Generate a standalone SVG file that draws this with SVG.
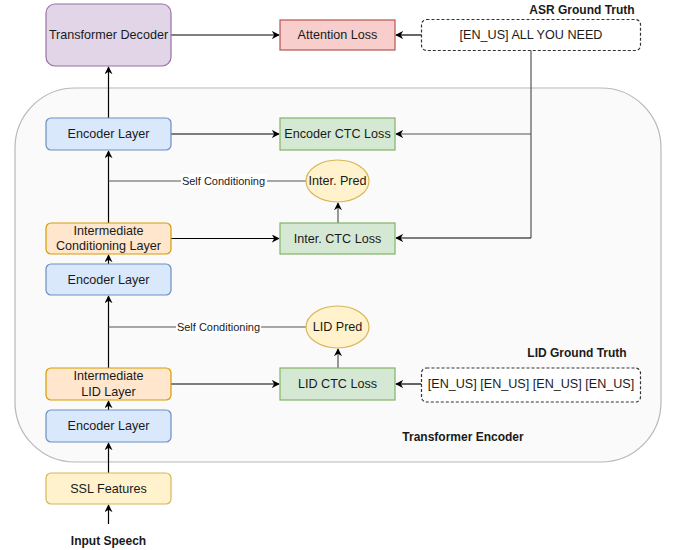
<svg xmlns="http://www.w3.org/2000/svg" width="677" height="550" viewBox="0 0 677 550">
<style>
text{font-family:"Liberation Sans",Arial,sans-serif;font-size:12.6px;fill:#1a1a1a;text-anchor:middle;dominant-baseline:central}
.b{font-weight:bold;font-size:12px}
.s{font-size:11px}
.enc{fill:#dae8fc;stroke:#6c8ebf;stroke-width:1.2}
.org{fill:#ffe6cc;stroke:#d79b00;stroke-width:1.2}
.yel{fill:#fff2cc;stroke:#d6b656;stroke-width:1.2}
.grn{fill:#d5e8d4;stroke:#82b366;stroke-width:1.2}
.gt{fill:#fff;stroke:#333;stroke-width:1.2;stroke-dasharray:3,2}
.ln{fill:none;stroke:#000;stroke-width:1.2}
.g{fill:none;stroke:#555;stroke-width:1.2}
</style>
<defs>
<marker id="ar" viewBox="0 0 10 10" refX="9" refY="5" markerWidth="8" markerHeight="8" markerUnits="userSpaceOnUse" orient="auto">
<path d="M0,0 L10,5 L0,10 L3,5 z" fill="#000"/>
</marker>
</defs>
<g id="encoder-container">
<rect x="15" y="88" width="646" height="374" rx="60" fill="#fafafa" stroke="#b8b8b8" stroke-width="1.2"/>
<text class="b" x="463" y="437">Transformer Encoder</text>
</g>
<g id="connectors">
<line class="ln" x1="108.5" y1="118" x2="108.5" y2="67" marker-end="url(#ar)"/>
<line class="ln" x1="171" y1="35" x2="279" y2="35" marker-end="url(#ar)"/>
<line class="ln" x1="421.5" y1="35" x2="396" y2="35" marker-end="url(#ar)"/>
<polyline class="g" points="531,50 531,238"/>
<line class="g" x1="531" y1="134" x2="396" y2="134" marker-end="url(#ar)"/>
<line class="ln" x1="531" y1="238" x2="396" y2="238" marker-end="url(#ar)"/>
<line class="ln" x1="171" y1="134" x2="279" y2="134" marker-end="url(#ar)"/>
<line class="ln" x1="108.5" y1="223" x2="108.5" y2="151" marker-end="url(#ar)"/>
<line class="g" x1="108.5" y1="181" x2="306" y2="181"/>
<line class="ln" x1="171" y1="238.5" x2="279" y2="238.5" marker-end="url(#ar)"/>
<line class="g" x1="338" y1="223" x2="338" y2="203" marker-end="url(#ar)"/>
<line class="ln" x1="108.5" y1="264" x2="108.5" y2="255" marker-end="url(#ar)"/>
<line class="ln" x1="108.5" y1="368" x2="108.5" y2="296" marker-end="url(#ar)"/>
<line class="g" x1="108.5" y1="327" x2="306" y2="327"/>
<line class="ln" x1="171" y1="384" x2="279" y2="384" marker-end="url(#ar)"/>
<line class="g" x1="338" y1="368" x2="338" y2="349" marker-end="url(#ar)"/>
<line class="ln" x1="421.5" y1="384" x2="396" y2="384" marker-end="url(#ar)"/>
<line class="ln" x1="108.5" y1="410" x2="108.5" y2="401" marker-end="url(#ar)"/>
<line class="ln" x1="108.5" y1="473" x2="108.5" y2="443" marker-end="url(#ar)"/>
<line class="ln" x1="108.5" y1="524" x2="108.5" y2="505" marker-end="url(#ar)"/>
<rect x="181" y="174" width="86" height="14" fill="#fff"/>
<text class="s" x="223.5" y="181">Self Conditioning</text>
<rect x="176" y="320" width="85" height="14" fill="#fff"/>
<text class="s" x="218.5" y="327">Self Conditioning</text>
</g>
<g id="transformer-decoder">
<rect x="46" y="4" width="125" height="62" rx="9" fill="#e1d5e7" stroke="#9673a6" stroke-width="1.2"/>
<text x="108.5" y="35">Transformer Decoder</text>
</g>
<g id="attention-loss">
<rect x="280" y="20" width="115" height="30" fill="#f8cecc" stroke="#b85450" stroke-width="1.2"/>
<text x="337.5" y="35">Attention Loss</text>
</g>
<g id="asr-ground-truth">
<rect class="gt" x="421.5" y="19.5" width="219" height="31" rx="5"/>
<text x="531" y="35">[EN_US] ALL YOU NEED</text>
<text class="b" x="582" y="10">ASR Ground Truth</text>
</g>
<g id="encoder-layer-1">
<rect class="enc" x="46" y="118" width="125" height="32" rx="5"/>
<text x="108.5" y="134">Encoder Layer</text>
</g>
<g id="encoder-ctc-loss">
<rect class="grn" x="280" y="118" width="115" height="32"/>
<text x="337.5" y="134">Encoder CTC Loss</text>
</g>
<g id="inter-pred">
<ellipse class="yel" cx="337.5" cy="181" rx="31.5" ry="21"/>
<text x="337.5" y="181">Inter. Pred</text>
</g>
<g id="intermediate-conditioning-layer">
<rect class="org" x="46" y="223" width="125" height="31" rx="5"/>
<text x="108.5" y="230.5">Intermediate</text>
<text x="108.5" y="246">Conditioning Layer</text>
</g>
<g id="inter-ctc-loss">
<rect class="grn" x="280" y="223" width="115" height="31"/>
<text x="337.5" y="238.5">Inter. CTC Loss</text>
</g>
<g id="encoder-layer-2">
<rect class="enc" x="46" y="264" width="125" height="31" rx="5"/>
<text x="108.5" y="280">Encoder Layer</text>
</g>
<g id="lid-pred">
<ellipse class="yel" cx="337.5" cy="327" rx="31.5" ry="21"/>
<text x="337.5" y="327">LID Pred</text>
</g>
<g id="intermediate-lid-layer">
<rect class="org" x="46" y="368" width="125" height="32" rx="5"/>
<text x="108.5" y="376">Intermediate</text>
<text x="108.5" y="392">LID Layer</text>
</g>
<g id="lid-ctc-loss">
<rect class="grn" x="280" y="368" width="115" height="32"/>
<text x="337.5" y="384">LID CTC Loss</text>
</g>
<g id="lid-ground-truth">
<rect class="gt" x="421.5" y="368" width="219" height="34" rx="5"/>
<text x="531" y="384">[EN_US] [EN_US] [EN_US] [EN_US]</text>
<text class="b" x="577" y="353">LID Ground Truth</text>
</g>
<g id="encoder-layer-3">
<rect class="enc" x="46" y="410" width="125" height="32" rx="5"/>
<text x="108.5" y="426">Encoder Layer</text>
</g>
<g id="ssl-features">
<rect class="yel" x="46" y="473" width="125" height="31" rx="5"/>
<text x="108.5" y="488.5">SSL Features</text>
</g>
<g id="input-speech">
<text class="b" x="108.5" y="541">Input Speech</text>
</g>
</svg>
